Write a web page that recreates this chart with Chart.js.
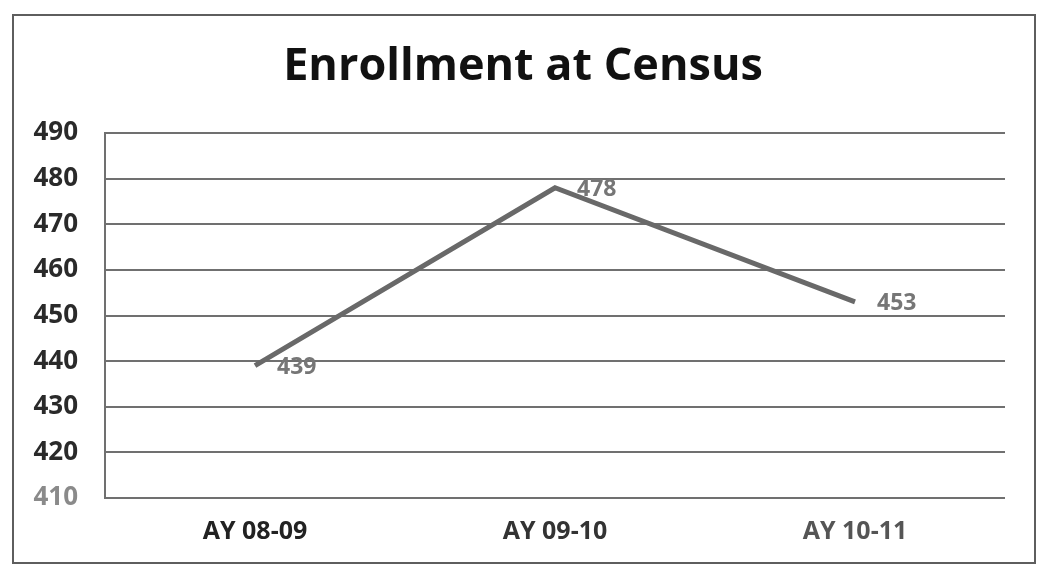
<!DOCTYPE html>
<html>
<head>
<meta charset="utf-8">
<script src="https://cdn.jsdelivr.net/npm/chart.js@4/dist/chart.umd.min.js"></script>
<style>
    html, body { margin: 0; padding: 0; background: #ffffff; }
    #wrap { position: relative; width: 1046px; height: 564px; }
    #frame {
        position: absolute; left: 12px; top: 14px; width: 1020px; height: 546px;
        border: 2px solid #5e5e5e; pointer-events: none;
    }
</style>
</head>
<body>
<div id="wrap">
    <canvas id="enrollmentChart" width="1046" height="564"></canvas>
    <div id="frame"></div>
</div>
<script>
// chart data
var chartTitle = 'Enrollment at Census';
var years = ['AY 08-09', 'AY 09-10', 'AY 10-11'];
var enrollment = [439, 478, 453];
var yTicks = [410, 420, 430, 440, 450, 460, 470, 480, 490];

// title is centred on the frame, not on the chart box, so draw it here
var frameTitle = {
    id: 'frameTitle',
    afterDraw: function (chart) {
        var ctx = chart.ctx;
        ctx.save();
        ctx.font = 'bold 45px "Open Sans", sans-serif';
        ctx.fillStyle = '#111111';
        ctx.textAlign = 'center';
        ctx.textBaseline = 'middle';
        ctx.fillText(chartTitle, 523, 67);
        ctx.restore();
    }
};

// draws the value next to each point
var valueLabels = {
    id: 'valueLabels',
    afterDatasetsDraw: function (chart) {
        var ctx = chart.ctx;
        var meta = chart.getDatasetMeta(0);
        ctx.save();
        ctx.font = 'bold 23px "Open Sans", sans-serif';
        ctx.fillStyle = '#767676';
        ctx.textAlign = 'left';
        ctx.textBaseline = 'middle';
        meta.data.forEach(function (pt, i) {
            ctx.fillText(String(enrollment[i]), pt.x + 22, pt.y + 2);
        });
        ctx.restore();
    }
};

var enrollmentChart = new Chart(document.getElementById('enrollmentChart'), {
    type: 'line',
    data: {
        labels: years,
        datasets: [{
            data: enrollment,
            borderColor: '#696969',
            borderWidth: 5,
            pointRadius: 0,
            tension: 0,
            fill: false
        }]
    },
    options: {
        responsive: false,
        animation: false,
        layout: { padding: { left: 0, right: 41, top: 133, bottom: 0 } },
        plugins: {
            legend: { display: false },
            tooltip: { enabled: false },
            title: { display: false }
        },
        scales: {
            x: {
                offset: true,
                grid: { display: false, drawTicks: false },
                border: { display: false },
                afterFit: function (scale) { scale.height = 66; },
                ticks: {
                    padding: 19,
                    font: { family: '"Open Sans", sans-serif', size: 25, weight: 'bold' },
                    color: function (c) { return ['#222222', '#333333', '#555555'][c.index]; }
                }
            },
            y: {
                min: 410,
                max: 490,
                afterFit: function (scale) { scale.width = 105; },
                afterBuildTicks: function (scale) {
                    scale.ticks = yTicks.map(function (v) { return { value: v }; });
                },
                grid: { color: '#707070', lineWidth: 2, drawTicks: false },
                border: { display: true, color: '#707070', width: 2 },
                ticks: {
                    padding: 27,
                    font: { family: '"Open Sans", sans-serif', size: 26, weight: 'bold' },
                    color: function (c) { return c.tick && c.tick.value === 410 ? '#8a8a8a' : '#2a2a2a'; }
                }
            }
        }
    },
    plugins: [frameTitle, valueLabels]
});
</script>
</body>
</html>
